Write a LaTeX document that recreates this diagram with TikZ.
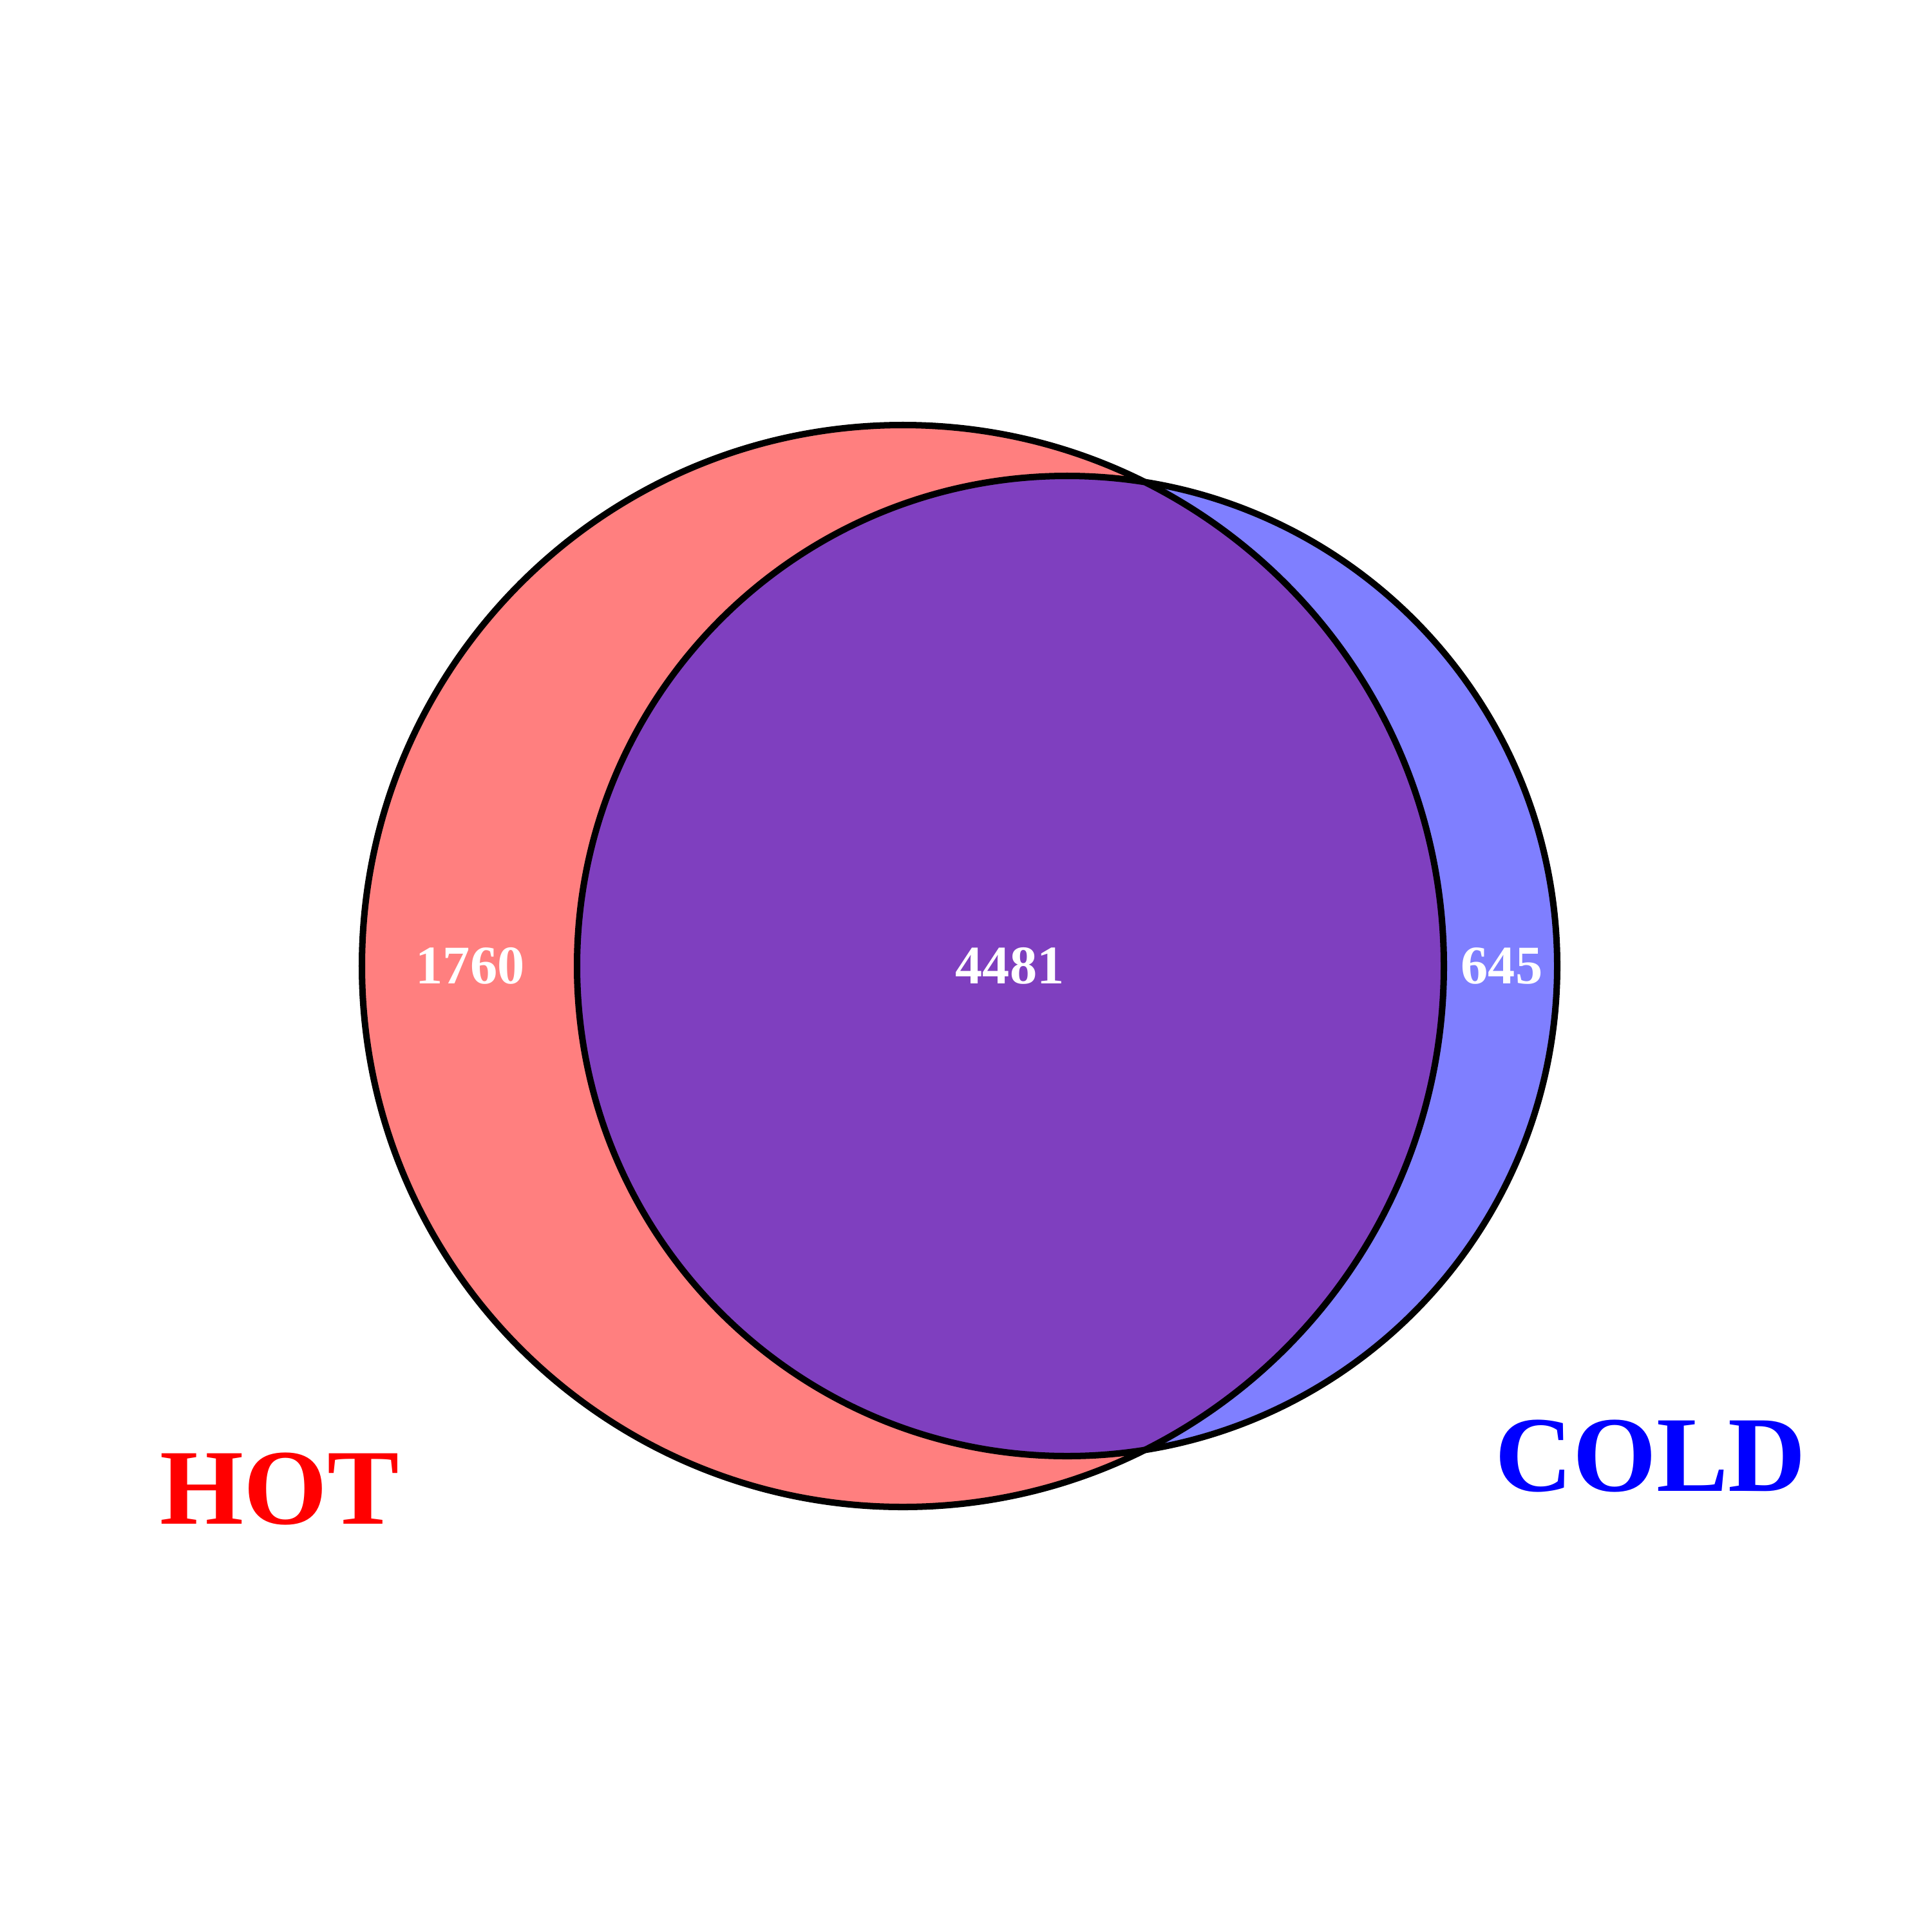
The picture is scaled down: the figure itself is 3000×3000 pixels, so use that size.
\documentclass[tikz,border=0pt]{standalone}
\usepackage{fontspec}
\setmainfont{Liberation Serif}[BoldFont={Liberation Serif Bold}]
\usepackage{xcolor}
\usepackage{tikz}

\begin{document}
\begin{tikzpicture}[x=0.01cm, y=-0.01cm,
      setfill/.style={fill opacity=0.5},
      setline/.style={draw=black, line width=2.85pt},
      count/.style={text=white, font=\fontsize{24}{28}\selectfont\bfseries, inner sep=0pt},
      setname/.style={font=\fontsize{47.5}{56}\selectfont\bfseries, inner sep=0pt}]

      \useasboundingbox (0,0) rectangle (3000,3000);

      % Sets
      \fill [setfill, red] (1402,1500) circle [radius=840];
      \fill [setfill, blue] (1657,1500) circle [radius=761];
      \path [setline] (1402,1500) circle [radius=840];
      \path [setline] (1657,1500) circle [radius=761];

      % Counts
      \node [count] (hotonly) at (730,1500) {1760};
      \node [count] (both) at (1568,1500) {4481};
      \node [count] (coldonly) at (2332,1500) {645};

      % Set names
      \node [setname, text=red] (hot) at (434,2312) {HOT};
      \node [setname, text=blue] (cold) at (2563,2261) {COLD};

\end{tikzpicture}
\end{document}
